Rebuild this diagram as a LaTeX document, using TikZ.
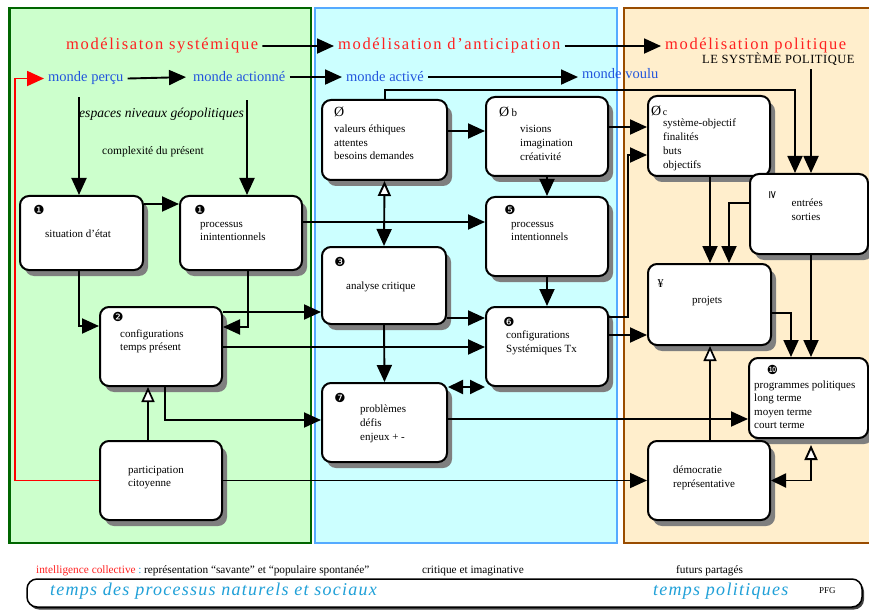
\documentclass[tikz,border=0pt]{standalone}
\usepackage{fontspec}
\setmainfont{Liberation Serif}
\newfontfamily\dings{DejaVu Sans}
\newfontfamily\titlefont[LetterSpace=10]{Liberation Serif}
\newfontfamily\capsfont[LetterSpace=4]{Liberation Serif}
\newfontfamily\footfont[LetterSpace=7]{Liberation Serif}
\usetikzlibrary{arrows.meta,shadows}
\definecolor{gfill}{HTML}{CCFFCC}
\definecolor{gborder}{HTML}{006600}
\definecolor{bfill}{HTML}{CCFFFF}
\definecolor{bborder}{HTML}{55AAFF}
\definecolor{ofill}{HTML}{FFEECC}
\definecolor{oborder}{HTML}{994C00}
\definecolor{titred}{HTML}{FF2020}
\definecolor{mblue}{HTML}{2255DD}
\definecolor{fcyan}{HTML}{1FA0D8}
\definecolor{shgray}{HTML}{7F7F7F}
\tikzset{
  box/.style={draw=black, line width=2pt, fill=white, rounded corners=9pt,
    drop shadow={shadow xshift=5pt, shadow yshift=-6pt, fill=shgray, opacity=1}, inner sep=0pt},
  arr/.style={line width=1.9pt, -{Triangle[length=17pt,width=15pt]}},
  uarr/.style={line width=1.7pt, -{Triangle[length=15pt,width=13pt,fill=white]}},
  darr/.style={line width=1.9pt, {Triangle[length=15pt,width=14pt]}-{Triangle[length=15pt,width=14pt]}},
  lbl/.style={anchor=base west, inner sep=0pt, font=\fontsize{11}{13.7}\selectfont},
  ml/.style={anchor=north west, inner sep=0pt, align=left, font=\fontsize{11}{13.7}\selectfont},
  num/.style={inner sep=0pt, font=\dings\fontsize{12.5}{12.5}\selectfont},
  oslash/.style={anchor=base west, inner sep=0pt, font=\fontsize{14}{14}\selectfont},
  ttl/.style={anchor=base west, inner xsep=4pt, inner ysep=0pt, text=titred, font=\titlefont\fontsize{16.5}{18}\selectfont},
  mw/.style={anchor=base west, inner xsep=4pt, inner ysep=0pt, text=mblue, font=\fontsize{14.5}{16}\selectfont},
  ft/.style={anchor=base west, inner sep=0pt, font=\fontsize{11.3}{12}\selectfont},
  fbig/.style={anchor=base west, inner sep=0pt, text=fcyan, font=\footfont\itshape\fontsize{18}{20}\selectfont},
}
\begin{document}
\begin{tikzpicture}[x=1pt,y=-1pt]
\useasboundingbox (0,0) rectangle (869,612);
\fill[white] (0,0) rectangle (869,612);
% panels
\draw[line width=2.5pt, draw=gborder, fill=gfill] (9.5,8) rectangle (311,543);
\draw[line width=2.5pt, draw=bborder, fill=bfill] (315,8) rectangle (617,543);
\draw[line width=2.5pt, draw=oborder, fill=ofill] (624,8) rectangle (878,543);

% titles
\node[ttl] (t1) at (62,50) {modélisaton systémique};
\node[ttl] (t2) at (334,50) {modélisation d’anticipation};
\node[ttl] (t3) at (661,50) {modélisation politique};
\node[anchor=base west, inner sep=0pt, font=\capsfont\fontsize{12.5}{13}\selectfont] (lesys) at (702,64) {LE SYSTÈME POLITIQUE};
\node[mw] (mp) at (44,82) {monde perçu};
\node[mw] (ma) at (189,82) {monde actionné};
\node[mw] (mac) at (342,82) {monde activé};
\node[mw] (mv) at (578,79) {monde voulu};
\node[anchor=base west, inner sep=0pt, font=\itshape\fontsize{13.6}{14}\selectfont] (esp) at (79,118) {espaces niveaux géopolitiques};
\node[anchor=base west, inner sep=0pt, font=\fontsize{11.5}{12}\selectfont] (cpx) at (102,155) {complexité du présent};

% boxes
\node[box, minimum width=123pt, minimum height=74pt] (sit) at (81.5,233) {};
\node[box, minimum width=122pt, minimum height=74pt] (pin) at (241,233) {};
\node[box, minimum width=122pt, minimum height=79pt] (cfg) at (161,346.5) {};
\node[box, minimum width=122pt, minimum height=79pt] (par) at (161,480.5) {};
\node[box, minimum width=125pt, minimum height=80pt] (val) at (384.5,140) {};
\node[box, minimum width=122pt, minimum height=79pt] (vis) at (547,136.5) {};
\node[box, minimum width=124pt, minimum height=77pt] (ana) at (384,285.5) {};
\node[box, minimum width=122pt, minimum height=79pt] (pint) at (547,236.5) {};
\node[box, minimum width=122pt, minimum height=79pt] (csys) at (547,346.5) {};
\node[box, minimum width=125pt, minimum height=79pt] (pro) at (384.5,422.5) {};
\node[box, minimum width=122pt, minimum height=80pt] (sob) at (709,136) {};
\node[box, minimum width=118pt, minimum height=80pt] (ent) at (809,214) {};
\node[box, minimum width=123pt, minimum height=81pt] (prj) at (709.5,304.5) {};
\node[box, minimum width=119pt, minimum height=80pt] (prg) at (808.5,398) {};
\node[box, minimum width=122pt, minimum height=79pt] (dem) at (709,480.5) {};

% box texts
\node[num] (n1) at (39,210) {❶};
\node[lbl] (sitt) at (45,237) {situation d’état};
\node[num] (n1b) at (200,210) {❶};
\node[ml] (pint1) at (200,217.5) {\strut processus\\inintentionnels};
\node[num] (n2) at (118,317) {❷};
\node[ml] (cfgt) at (120,327.5) {\strut configurations\\temps présent};
\node[ml] (part) at (128,463.5) {\strut participation\\citoyenne};
\node[oslash] (o1) at (334,117) {Ø};
\node[ml] (valt) at (334,122.8) {\strut valeurs éthiques\\attentes\\besoins demandes};
\node[oslash] (o2) at (499,117) {Ø\,\fontsize{11}{11}\selectfont b};
\node[ml] (vist) at (520,123) {\strut visions\\imagination\\créativité};
\node[num] (n3) at (340,262) {❸};
\node[lbl] (anat) at (346,289) {analyse critique};
\node[num] (n5) at (510,210) {❺};
\node[ml] (pintt) at (511,217.3) {\strut processus\\intentionnels};
\node[num] (n6) at (509,322) {❻};
\node[ml] (csyst) at (506,328.8) {\strut configurations\\Systémiques Tx};
\node[num] (n7) at (340,398) {❼};
\node[ml] (prot) at (360,403) {\strut problèmes\\défis\\enjeux + -};
\node[oslash] (o3) at (651,116) {Ø\fontsize{10}{10}\selectfont\,c};
\node[ml, font=\fontsize{11}{13.9}\selectfont] (sobt) at (663,117) {\strut système-objectif\\finalités\\buts\\objectifs};
\node[inner sep=0pt, rotate=-90, font=\dings\fontsize{11}{11}\selectfont] (ge) at (772.5,195) {≥};
\node[ml] (entt) at (791.5,197.2) {\strut entrées\\sorties};
\node[inner sep=0pt, font=\fontsize{12}{12}\selectfont] (yen) at (660.5,284) {¥};
\node[lbl] (prjt) at (692,303) {projets};
\node[num] (n10) at (772.5,370) {❿};
\node[ml, font=\fontsize{11}{13.5}\selectfont] (prgt) at (754,378.8) {\strut programmes politiques\\long terme\\moyen terme\\court terme};
\node[ml] (demt) at (673,463.8) {\strut démocratie\\représentative};

% connectors top
\draw[arr] (t1.east) -- (t2.west);
\draw[arr] (t2.east) -- (t3.west);
\draw[arr, shorten >=3pt] (mp.east) -- (ma.west);
\draw[arr] (ma.east) -- (mac.west);
\draw[arr] (mac.east) -- (mac.east -| mv.west);
\draw[arr] (mp.south -| 79,0) ++(0,12) -- (sit.north -| 79,0);
\draw[arr] (ma.south -| 247,0) ++(0,18) -- (pin.north -| 247,0);
% red feedback
\draw[line width=1.9pt, red, -{Triangle[length=17pt,width=15pt]}] (par.west) -| (mp.west -| 15,0) -- (mp.west);

% left panel
\draw[arr] (sit.east |- 0,204) -- (pin.west |- 0,204);
\draw[arr] (sit.south -| 79,0) |- (cfg.west |- 0,326);
\draw[arr] (pin.south -| 248,0) |- (cfg.east |- 0,327);
\draw[arr] (cfg.east |- 0,312) -- (ana.west |- 0,312);
\draw[arr] (cfg.east |- 0,347) -- (csys.west |- 0,347);
\draw[uarr] (par.north -| 148,0) -- (cfg.south -| 148,0);
\draw[arr] (cfg.south -| 165,0) |- (pro.west |- 0,420);
\draw[arr] (par.east) -- (dem.west);
\draw[arr] (pin.east |- 0,222) -- (pint.west |- 0,222);

% middle
\draw[arr] (val.east |- 0,131) -- (vis.west |- 0,131);
\draw[arr] (val.north -| 385,0) |- (795,90) -- (ent.north -| 795,0);
\draw[arr] (lesys.south -| 811,0) ++(0,3) -- (ent.north -| 811,0);
\draw[arr] (vis.east |- 0,127) -- (sob.west |- 0,127);
\draw[arr] (csys.east |- 0,317) -| (628,155) -- (sob.west |- 0,155);
\draw[arr] (csys.east |- 0,335) -- (prj.west |- 0,335);
\draw[arr] (vis.south) -- (pint.north);
\draw[arr] (pint.south) -- (csys.north);
\draw[line width=1.9pt, {Triangle[length=15pt,width=13pt,fill=white]}-{Triangle[length=17pt,width=15pt]}] (val.south) -- (ana.north);
\draw[arr] (ana.east |- 0,318) -- (csys.west |- 0,318);
\draw[arr] (ana.south) -- (pro.north);
\draw[darr] (pro.east |- 0,387) -- (csys.west |- 0,387);
\draw[arr] (pro.east |- 0,419) -- (prg.west |- 0,419);

% right
\draw[arr] (sob.south -| 710,0) -- (prj.north -| 710,0);
\draw[arr] (ent.west |- 0,203) -| (prj.north -| 729,0);
\draw[arr] (prj.east |- 0,313) -| (prg.north -| 791,0);
\draw[arr] (ent.south -| 811,0) -- (prg.north -| 811,0);
\draw[uarr] (dem.north -| 710,0) -- (prj.south -| 710,0);
\draw[line width=1.9pt, {Triangle[length=15pt,width=14pt]}-{Triangle[length=15pt,width=13pt,fill=white]}] (dem.east) -| ([yshift=-6pt]prg.south -| 811,0);

% footer
\node[ft, text=titred] (ic) at (36,573) {intelligence collective {\color{fcyan}:}};
\node[ft] (rep) at (144,573) {représentation “savante” et “populaire spontanée”};
\node[ft] (cri) at (422,573) {critique et imaginative};
\node[ft] (fut) at (676,573) {futurs partagés};
\draw[line width=1.5pt, rounded corners=10pt, fill=white,
  drop shadow={shadow xshift=2pt, shadow yshift=-2.5pt, fill=black!75, opacity=1}] (27,579) rectangle (862,607);
\node[fbig] (tp1) at (50,595) {temps des processus naturels et sociaux};
\node[fbig] (tp2) at (653,595) {temps politiques};
\node[anchor=base west, inner sep=0pt, font=\fontsize{9}{10}\selectfont] (pfg) at (819,593) {PFG};
\end{tikzpicture}
\end{document}
